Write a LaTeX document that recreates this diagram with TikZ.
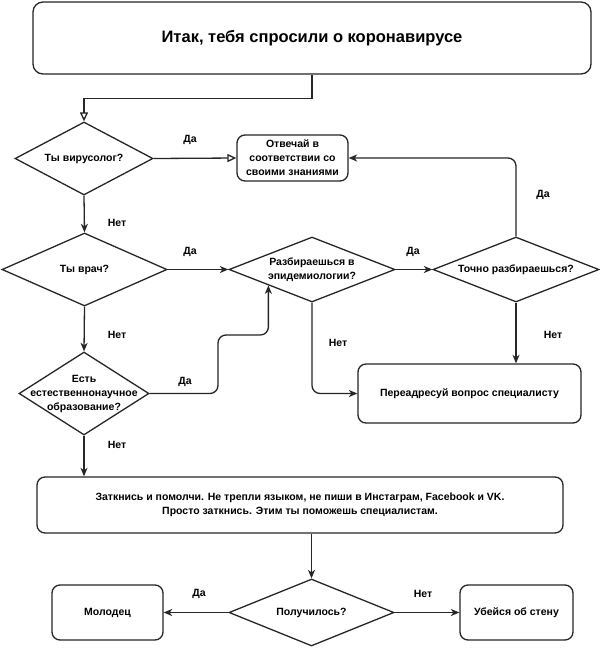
\documentclass[tikz,border=0pt]{standalone}
\usepackage{fontspec}
\setmainfont{Liberation Sans}
\usetikzlibrary{shapes.geometric,arrows.meta}
\definecolor{linec}{HTML}{262626}
\begin{document}
\begin{tikzpicture}[x=1pt,y=-1pt,
 box/.style={draw=linec, line width=1.3pt, rounded corners=8pt, inner sep=0pt, font=\bfseries\fontsize{10.5}{14}\selectfont, align=center},
 dia/.style={draw=linec, line width=1.3pt, diamond, inner sep=0pt},
 dtxt/.style={font=\bfseries\fontsize{10.5}{14}\selectfont, align=center, inner sep=0pt},
 lbl/.style={font=\bfseries\fontsize{10.5}{12}\selectfont, inner sep=0pt},
 conn/.style={draw=linec, line width=1.3pt, -{Stealth[length=8.5pt,width=7pt,inset=2.5pt]}},
 oconn/.style={draw=linec, line width=1.3pt, -{Triangle[open,length=9pt,width=8pt]}},
]
\useasboundingbox[fill=white] (0,0) rectangle (600,649);

% boxes
\node[box, minimum width=558pt, minimum height=72pt, rounded corners=10pt, font=\bfseries\fontsize{16.5}{19}\selectfont] (top) at (312,38) {Итак, тебя спросили о коронавирусе};
\node[box, minimum width=111pt, minimum height=46pt] (ans) at (292.5,158) {Отвечай в\\соответствии со\\своими знаниями};
\node[box, minimum width=223pt, minimum height=59pt] (pere) at (469.5,393.5) {Переадресуй вопрос специалисту};
\node[box, minimum width=526pt, minimum height=56pt] (zat) at (300,505) {Заткнись и помолчи. Не трепли языком, не пиши в Инстаграм, Facebook и VK.\\Просто заткнись. Этим ты поможешь специалистам.};
\node[box, minimum width=111pt, minimum height=55pt] (mol) at (107.5,612.5) {Молодец};
\node[box, minimum width=113pt, minimum height=55pt] (ube) at (516.5,612.5) {Убейся об стену};

% diamonds
\node[dia, minimum width=138pt, minimum height=73pt, label={[dtxt]center:Ты вирусолог?}] (vir) at (84,158.5) {};
\node[dia, minimum width=165pt, minimum height=73pt, label={[dtxt]center:Ты врач?}] (vrach) at (84.5,269.5) {};
\node[dia, minimum width=130pt, minimum height=83pt, label={[dtxt]center:{Есть\\естественнонаучное\\образование?}}] (est) at (84,393.5) {};
\node[dia, minimum width=166pt, minimum height=65pt, label={[dtxt]center:{Разбираешься в\\эпидемиологии?}}] (razb) at (312,269.5) {};
\node[dia, minimum width=166pt, minimum height=65pt, label={[dtxt]center:Точно разбираешься?}] (tochno) at (516,269.5) {};
\node[dia, minimum width=165pt, minimum height=67pt, label={[dtxt]center:Получилось?}] (pol) at (311.5,612.5) {};

% connectors
\draw[oconn] (top.south) -- ++(0,24) -| (vir.north);
\draw[oconn] (vir.east) -- (ans.west);
\draw[conn] (vir.south) -- (vrach.north);
\draw[conn] (vrach.east) -- (razb.west);
\draw[conn] (vrach.south) -- (est.north);
\coordinate (k1) at (218,335);
\draw[conn, rounded corners=8pt] (est.east) -| (k1) -| (razb.200);
\draw[conn] (est.south) -- (est.south |- zat.north);
\draw[conn] (razb.east) -- (tochno.west);
\draw[conn, rounded corners=8pt] (tochno.north) |- (ans.east);
\draw[conn, rounded corners=8pt] (razb.south) |- (pere.west);
\draw[conn] (tochno.south) -- (tochno.south |- pere.north);
\draw[conn] (zat.south -| pol.north) -- (pol.north);
\draw[conn] (pol.west) -- (mol.east);
\draw[conn] (pol.east) -- (ube.west);

% labels
\node[lbl] (l1) at (190,140) {Да};
\node[lbl] (l2) at (117,223) {Нет};
\node[lbl] (l3) at (190,252) {Да};
\node[lbl] (l4) at (117,335) {Нет};
\node[lbl] (l5) at (185,382) {Да};
\node[lbl] (l6) at (117,445) {Нет};
\node[lbl] (l7) at (413,252) {Да};
\node[lbl] (l8) at (543,195) {Да};
\node[lbl] (l9) at (338,343) {Нет};
\node[lbl] (l10) at (553,335) {Нет};
\node[lbl] (l11) at (199,594) {Да};
\node[lbl] (l12) at (423,594) {Нет};
\end{tikzpicture}
\end{document}
